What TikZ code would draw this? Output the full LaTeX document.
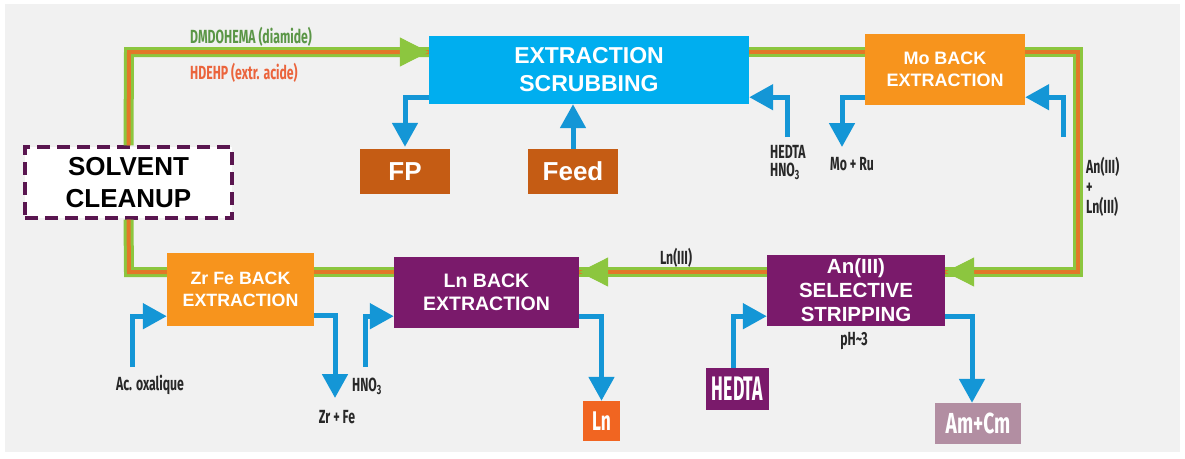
\documentclass[tikz,border=0pt]{standalone}
\usepackage{fontspec}
\setmainfont{Liberation Sans}
\newfontfamily\lblfont[FakeStretch=0.645]{Fira Sans}
\newfontfamily\hedfont[FakeStretch=0.52]{Fira Sans}
\newfontfamily\amfont[FakeStretch=0.66]{Fira Sans}
\usetikzlibrary{arrows.meta,calc}
\definecolor{bg}{RGB}{241,241,241}
\definecolor{cyanbox}{RGB}{0,174,239}
\definecolor{flowblue}{RGB}{20,150,214}
\definecolor{orbox}{RGB}{247,148,29}
\definecolor{brbox}{RGB}{197,92,20}
\definecolor{purbox}{RGB}{122,26,107}
\definecolor{lnbox}{RGB}{241,101,33}
\definecolor{ambox}{RGB}{178,142,162}
\definecolor{solvgreen}{RGB}{140,198,63}
\definecolor{solvorange}{RGB}{226,120,40}
\definecolor{dmgreen}{RGB}{90,150,70}
\definecolor{hdorange}{RGB}{235,100,60}
\definecolor{cleanpur}{RGB}{90,22,80}
\definecolor{lblgray}{RGB}{40,40,40}
\tikzset{
  proc/.style={inner sep=0pt, text=white, align=center},
  flow/.style={draw=flowblue, line width=5pt, -{Triangle[width=25pt,length=24pt]}},
  solvent/.style={draw=solvgreen, line width=3pt, double=solvorange, double distance=4pt},
  ghead/.style={draw=solvgreen, fill=solvgreen, line width=1pt, -{Triangle[width=29pt,length=29pt]}},
  lbl/.style={text=lblgray, inner sep=0pt, font=\lblfont\bfseries\fontsize{19}{20}\selectfont},
}
\begin{document}
\begin{tikzpicture}[x=1pt,y=-1pt]
\useasboundingbox (0,0) rectangle (1185,458);
\fill[white] (0,0) rectangle (1185,458);
\fill[bg] (5,4) rectangle (1180,452);

% process boxes
\node[proc, fill=cyanbox, minimum width=320pt, minimum height=68pt,
  font=\bfseries\fontsize{23}{28}\selectfont] (ext) at (589,70) {EXTRACTION\\SCRUBBING};
\node[proc, fill=orbox, minimum width=160pt, minimum height=71pt,
  font=\bfseries\fontsize{18}{22}\selectfont] (mo) at (945,69.5) {Mo BACK\\EXTRACTION};
\node[proc, fill=brbox, minimum width=90pt, minimum height=45pt,
  font=\bfseries\fontsize{26}{28}\selectfont] (fp) at (405,171.5) {FP};
\node[proc, fill=brbox, minimum width=90pt, minimum height=45pt,
  font=\bfseries\fontsize{26}{28}\selectfont] (feed) at (573,171.5) {Feed};
\node[proc, fill=orbox, minimum width=147pt, minimum height=73pt,
  font=\bfseries\fontsize{17.8}{22}\selectfont] (zr) at (240.5,289.5) {Zr Fe BACK\\EXTRACTION};
\node[proc, fill=purbox, minimum width=185pt, minimum height=71pt,
  font=\bfseries\fontsize{19.5}{23}\selectfont] (ln) at (486.5,292.5) {Ln BACK\\EXTRACTION};
\node[proc, fill=purbox, minimum width=178pt, minimum height=71pt,
  font=\bfseries\fontsize{20.5}{24}\selectfont] (an) at (856,290.5) {An(III)\\SELECTIVE\\STRIPPING};
\node[proc, fill=lnbox, minimum width=37pt, minimum height=40pt,
  font=\lblfont\bfseries\fontsize{27}{28}\selectfont] (lnp) at (601.5,421) {Ln};
\node[proc, fill=purbox, minimum width=63pt, minimum height=42pt,
  font=\hedfont\bfseries\fontsize{34}{36}\selectfont] (hedta) at (737.5,389) {HEDTA};
\node[proc, fill=ambox, minimum width=86pt, minimum height=41pt,
  font=\amfont\bfseries\fontsize{29}{30}\selectfont] (amcm) at (978,423.5) {Am+Cm};
\node[proc, fill=white, text=black, draw=cleanpur, line width=3.2pt, dash pattern=on 13pt off 7pt,
  minimum width=207pt, minimum height=71pt,
  font=\bfseries\fontsize{26}{32}\selectfont] (clean) at (128.5,182.5) {SOLVENT\\CLEANUP};

% labels
\node[lbl, text=dmgreen, anchor=north west] (dmdo) at (190,27) {DMDOHEMA (diamide)};
\node[lbl, text=hdorange, anchor=north west] (hdehp) at (190,63) {HDEHP (extr. acide)};
\node[lbl, anchor=north west, align=left, font=\lblfont\bfseries\fontsize{19}{18}\selectfont] (hedtahno) at (770,145) {HEDTA\\HNO\textsubscript{3}};
\node[lbl, anchor=north] (moru) at (852,157) {Mo + Ru};
\node[lbl, anchor=north west, align=left] (anln) at (1086,157) {An(III)\\+\\Ln(III)};
\node[lbl, anchor=north] (acox) at (150,375) {Ac. oxalique};
\node[lbl, anchor=north] (zrfe) at (337,410) {Zr + Fe};
\node[lbl, anchor=north] (hno) at (367,378) {HNO\textsubscript{3}};
\node[lbl, anchor=north] (lniii) at (676,248) {Ln(III)};
\node[lbl, anchor=north] (ph) at (854,332) {pH\textasciitilde3};

% solvent loop
\coordinate (ltop) at (129,52);
\coordinate (rtop) at (1078,52);
\coordinate (rbot) at (1078,272);
\coordinate (lbot) at (129,272);
\draw[solvent] (clean.north) -- (ltop) -- (ltop -| ext.west);
\draw[solvent] (ext.east |- ltop) -- (mo.west |- ltop);
\draw[solvent] (mo.east |- ltop) -- (rtop) -- (rbot) -- (an.east |- rbot);
\draw[solvent] (an.west |- rbot) -- (ln.east |- rbot);
\draw[solvent] (ln.west |- rbot) -- (zr.east |- rbot);
\draw[solvent] (zr.west |- rbot) -- (lbot) -- (clean.south);
\draw[ghead] ($(ltop -| ext.west)+(-4,0)$) -- (ltop -| ext.west);
\draw[ghead] ($(an.east |- rbot)+(4,0)$) -- (an.east |- rbot);
\draw[ghead] ($(ln.east |- rbot)+(4,0)$) -- (ln.east |- rbot);

% aqueous flows
\draw[flow] ($(ext.south west)+(0,-7)$) -| ($(fp.north)+(0,-2)$);
\draw[flow] (feed.north) -- (feed.north |- ext.south);
\draw[flow] ($(hedtahno.north west)+(17,-8)$) |- ($(ext.south east)+(0,-7)$);
\draw[flow] ($(mo.south west)+(0,-8)$) -| ($(moru.north)+(-10,-10)$);
\draw[flow] ($(anln.north west)+(-23,-20)$) |- ($(mo.south east)+(0,-8)$);
\draw[flow] ($(acox.north)+(-18,-8)$) |- ($(zr.south west)+(0,-10)$);
\draw[flow] ($(zr.south east)+(0,-11)$) -| ($(zrfe.north)+(-2,-12)$);
\draw[flow] ($(hno.north)+(-2,-11)$) |- ($(ln.south west)+(0,-12)$);
\draw[flow] ($(ln.south east)+(0,-12)$) -| (lnp.north);
\draw[flow] ($(hedta.north)+(-4,0)$) |- ($(an.south west)+(0,-10)$);
\draw[flow] ($(an.south east)+(0,-10)$) -| ($(amcm.north)+(-6,0)$);
\end{tikzpicture}
\end{document}
